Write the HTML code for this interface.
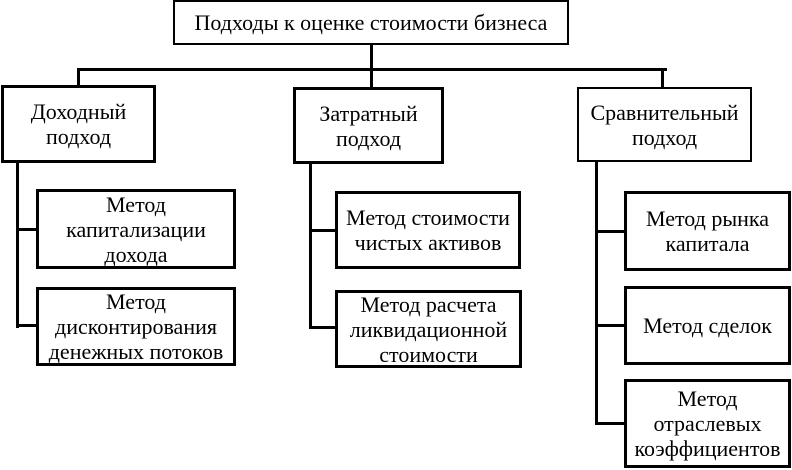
<!DOCTYPE html>
<html><head><meta charset="utf-8"><style>
body{margin:0;width:792px;height:470px;background:#fff;position:relative;overflow:hidden;font-family:"Liberation Serif","DejaVu Serif","Times New Roman",serif;font-size:22px;color:#000}
.b{position:absolute;box-sizing:border-box;border:3px solid #000;display:flex;align-items:center;justify-content:center;text-align:center;line-height:25px;background:#fff;white-space:nowrap}
.l{position:absolute;background:#000}
</style></head><body>
<div class="l" style="left:370px;top:44px;width:3px;height:44px"></div>
<div class="l" style="left:77px;top:68px;width:590px;height:3px"></div>
<div class="l" style="left:77px;top:68px;width:3px;height:20px"></div>
<div class="l" style="left:661px;top:68px;width:3px;height:20px"></div>
<div class="l" style="left:16px;top:160px;width:3px;height:168px"></div>
<div class="l" style="left:16px;top:228px;width:22px;height:3px"></div>
<div class="l" style="left:16px;top:324px;width:22px;height:3px"></div>
<div class="l" style="left:309px;top:161px;width:3px;height:168px"></div>
<div class="l" style="left:309px;top:229px;width:28px;height:3px"></div>
<div class="l" style="left:309px;top:326px;width:28px;height:3px"></div>
<div class="l" style="left:595px;top:160px;width:3px;height:265px"></div>
<div class="l" style="left:595px;top:230px;width:31px;height:3px"></div>
<div class="l" style="left:595px;top:324px;width:31px;height:3px"></div>
<div class="l" style="left:595px;top:422px;width:31px;height:3px"></div>
<div class="b" style="left:173px;top:0;width:396px;height:45px;border-width:2px">Подходы к оценке стоимости бизнеса</div>
<div class="b" style="left:1px;top:85px;width:155px;height:78px">Доходный<br>подход</div>
<div class="b" style="left:293px;top:87px;width:151px;height:77px">Затратный<br>подход</div>
<div class="b" style="left:577px;top:87px;width:175px;height:75px;border-width:2px">Сравнительный<br>подход</div>
<div class="b" style="left:36px;top:189px;width:200px;height:80px">Метод<br>капитализации<br>дохода</div>
<div class="b" style="left:36px;top:287px;width:200px;height:79px">Метод<br>дисконтирования<br>денежных потоков</div>
<div class="b" style="left:335px;top:191px;width:186px;height:78px">Метод стоимости<br>чистых активов</div>
<div class="b" style="left:335px;top:290px;width:187px;height:78px">Метод расчета<br>ликвидационной<br>стоимости</div>
<div class="b" style="left:624px;top:191px;width:167px;height:80px">Метод рынка<br>капитала</div>
<div class="b" style="left:624px;top:286px;width:167px;height:79px">Метод сделок</div>
<div class="b" style="left:624px;top:379px;width:167px;height:89px">Метод<br>отраслевых<br>коэффициентов</div>
</body></html>
